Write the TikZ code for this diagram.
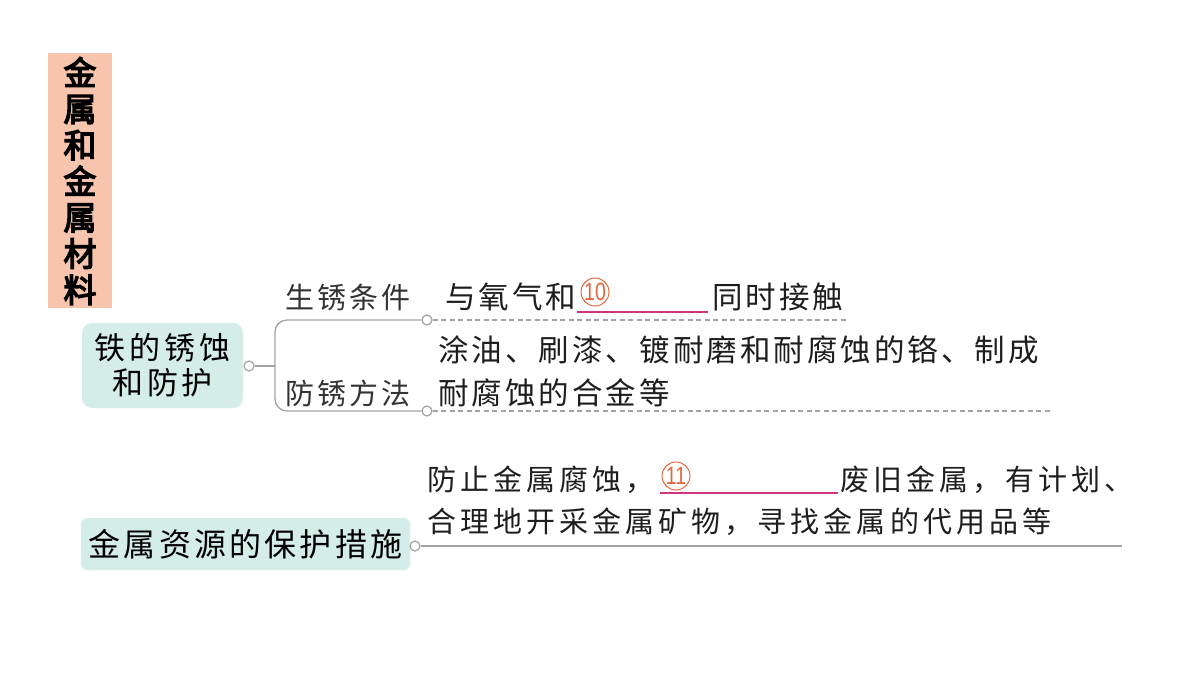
\documentclass[tikz,border=0pt]{standalone}
\usepackage{fontspec}
\setmainfont{Liberation Sans}
\newfontfamily\cjkLbl[LetterSpace=11]{Noto Sans CJK SC}
\newfontfamily\cjkBody[LetterSpace=10]{Noto Sans CJK SC}
\newfontfamily\cjkBot[LetterSpace=14]{Noto Sans CJK SC}
\newfontfamily\cjkTopA[LetterSpace=12]{Noto Sans CJK SC}
\newfontfamily\cjkTopB[LetterSpace=10]{Noto Sans CJK SC}
\newfontfamily\cjkTitle[FakeBold=4]{Noto Sans CJK SC}
\definecolor{salmon}{HTML}{F7C4AD}
\definecolor{tealbg}{HTML}{D5EDE9}
\definecolor{linegray}{HTML}{A3A3A3}
\definecolor{labelgray}{HTML}{333333}
\definecolor{textblack}{HTML}{1E1E1E}
\definecolor{numorange}{HTML}{E2663F}
\definecolor{ulmagenta}{HTML}{D2347E}
\tikzset{
  conn/.style={draw=linegray, line width=1.3pt},
  dashconn/.style={draw=linegray, line width=1.3pt, dash pattern=on 5pt off 3.5pt},
  dot/.style={circle, draw=linegray, fill=white, line width=1.2pt, minimum size=10pt, inner sep=0pt},
  lbl/.style={anchor=west, inner sep=0pt, text=labelgray, font=\cjkLbl\fontsize{29}{32}\selectfont},
  bodytxt/.style={anchor=west, inner sep=0pt, text=textblack, font=\cjkBody\fontsize{30.5}{33}\selectfont},
  bottxt/.style={anchor=west, inner sep=0pt, text=textblack, font=\cjkBot\fontsize{29}{32}\selectfont},
  topic/.style={fill=tealbg, text=black, align=center, inner sep=0pt},
  numc/.style={circle, draw=numorange, line width=1pt, text=numorange, minimum size=28pt, inner sep=0pt, font=\fontsize{25}{25}\selectfont},
  uline/.style={draw=ulmagenta, line width=1.6pt},
}
\begin{document}
\begin{tikzpicture}[x=1pt,y=-1pt]
\useasboundingbox (0,0) rectangle (1200,675);
\fill[white] (0,0) rectangle (1200,675);
% title
\fill[salmon] (48,53) rectangle (112,308);
\node[align=center, inner sep=0pt, text=black, font=\cjkTitle\fontsize{33}{36.2}\selectfont] (title) at (80,181) {金\\属\\和\\金\\属\\材\\料};
% topic 1
\node[topic, rounded corners=10pt, minimum width=161pt, minimum height=85pt, font=\cjkTopA\fontsize{31}{35}\selectfont] (t1) at (162.5,365.5) {铁的锈蚀\\和防护};
\node[dot] (c1) at (249,366) {};
\coordinate (bk) at (275,366);
\node[dot] (c2) at (427,320) {};
\node[dot] (c3) at (427,411) {};
\draw[conn] (c1.east) -- (bk);
\draw[conn, rounded corners=12pt] (c2.west) -| (bk) |- (c3.west);
\coordinate (e2) at (848,320);
\coordinate (e3) at (1052,411);
\draw[dashconn] (c2.east) -- (e2);
\draw[dashconn] (c3.east) -- (e3);
\node[lbl] (l1) at (285,297) {生锈条件};
\node[lbl] (l2) at (285,393) {防锈方法};
\node[bodytxt] (a1) at (445,297) {与氧气和};
\node[numc] (n10) at (595,292) {\scalebox{0.78}[1]{10}};
\draw[uline] (577,312) -- (708,312);
\node[bodytxt] (a2) at (712,297) {同时接触};
\node[bodytxt] (b1) at (438,350) {涂油、刷漆、镀耐磨和耐腐蚀的铬、制成};
\node[bodytxt] (b2) at (438,393) {耐腐蚀的合金等};
% topic 2
\node[topic, rounded corners=6pt, minimum width=329pt, minimum height=52pt, font=\cjkTopB\fontsize{32}{35}\selectfont] (t2) at (245.5,544) {金属资源的保护措施};
\node[dot] (c4) at (415,546) {};
\coordinate (e4) at (1122,546);
\draw[conn] (c4.east) -- (e4);
\node[bottxt] (d1) at (427,480) {防止金属腐蚀，};
\node[numc] (n11) at (676,476) {\scalebox{0.78}[1]{11}};
\draw[uline] (660,493) -- (838,493);
\node[bottxt] (d2) at (840,480) {废旧金属，有计划、};
\node[bottxt] (d3) at (427,522) {合理地开采金属矿物，寻找金属的代用品等};
\end{tikzpicture}
\end{document}
